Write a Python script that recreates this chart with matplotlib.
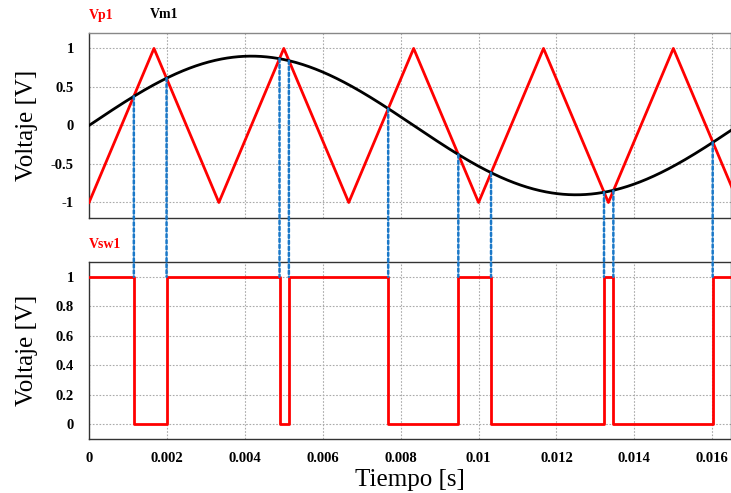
import numpy as np
import matplotlib
matplotlib.use("Agg")
import matplotlib.pyplot as plt
from matplotlib.patches import ConnectionPatch

# carrier (triangle) vertices
tri_t = [0.0, 0.001667, 0.003333, 0.005, 0.006667, 0.008333, 0.01,
         0.011667, 0.013333, 0.015, 0.016667]
tri_v = [-1, 1, -1, 1, -1, 1, -1, 1, -1, 1, -1]

# modulating signal: amplitude and frequency
mod_amp = 0.9
mod_freq = 60.0

# crossing instants (switch edges) and the switch level after each edge
edge_t = [0.0, 0.00115, 0.00199, 0.00489, 0.00513, 0.00768, 0.00948,
          0.01032, 0.01322, 0.01346, 0.01601]
edge_v = [1, 0, 1, 0, 1, 0, 1, 0, 1, 0, 1]
# modulating value at each crossing (where the dotted lines start)
cross_v = [0.378, 0.614, 0.867, 0.841, 0.219, -0.377, -0.613, -0.866,
           -0.845, -0.220]

x_ticks = [0, 0.002, 0.004, 0.006, 0.008, 0.01, 0.012, 0.014, 0.016]
x_max = 0.01648

serif = "Liberation Serif"
red = "#ff0000"
blue = "#1a78c8"

fig = plt.figure(figsize=(7.31, 4.93), dpi=100)
ax1 = fig.add_axes([0.1218, 0.558, 0.8782, 0.375])
ax2 = fig.add_axes([0.1218, 0.1095, 0.8782, 0.359])

t = np.linspace(0, x_max, 800)
ax1.plot(tri_t, tri_v, color=red, lw=2, zorder=3)
ax1.plot(t, mod_amp * np.sin(2 * np.pi * mod_freq * t), color="black", lw=2, zorder=3)
ax1.set_ylim(-1.2, 1.2)
ax1.set_yticks([-1, -0.5, 0, 0.5, 1])
ax1.set_yticklabels(["-1", "-0.5", "0", "0.5", "1"])

st = edge_t + [x_max]
sv = edge_v + [edge_v[-1]]
ax2.step(st, sv, where="post", color=red, lw=2, zorder=3)
ax2.set_ylim(-0.1, 1.1)
ax2.set_yticks([0, 0.2, 0.4, 0.6, 0.8, 1])
ax2.set_yticklabels(["0", "0.2", "0.4", "0.6", "0.8", "1"])

for ax in (ax1, ax2):
    ax.set_xlim(0, x_max)
    ax.set_xticks(x_ticks)
    ax.grid(True, color="#aaaaaa", ls=(0, (1.5, 1.5)), lw=0.8)
    ax.tick_params(axis="y", length=0, pad=11, labelsize=10.5)
    ax.tick_params(axis="x", length=0, pad=9, labelsize=10.5)
    for lab in ax.get_yticklabels() + ax.get_xticklabels():
        lab.set_fontfamily(serif)
        lab.set_fontweight("bold")
    for s in ax.spines.values():
        s.set_color("#333333")
        s.set_linewidth(1)
    ax.set_ylabel("Voltaje [V]", fontfamily=serif, fontsize=18)
    ax.yaxis.set_label_coords(-0.08, 0.5)

ax1.spines["top"].set_color("#888888")
ax1.set_xticklabels([])
ax2.set_xticklabels(["%g" % v for v in x_ticks])
for lab in ax2.get_xticklabels():
    lab.set_fontfamily(serif)
    lab.set_fontweight("bold")
ax2.set_xlabel("Tiempo [s]", fontfamily=serif, fontsize=18, labelpad=3)

# dotted lines from each crossing down to the switch signal
for tc, vc in zip(edge_t[1:], cross_v):
    cp = ConnectionPatch(xyA=(tc, vc), coordsA=ax1.transData,
                         xyB=(tc, 1.0), coordsB=ax2.transData,
                         color=blue, lw=1.8, ls=(0, (1.3, 1.1)), zorder=2)
    fig.add_artist(cp)

fig.text(89 / 731, 1 - 15 / 493, "Vp1", color=red, fontfamily=serif,
         fontweight="bold", fontsize=10, va="center")
fig.text(150 / 731, 1 - 15 / 493, "Vm1", color="black", fontfamily=serif,
         fontweight="bold", fontsize=10, va="center")
fig.text(89 / 731, 1 - 245 / 493, "Vsw1", color=red, fontfamily=serif,
         fontweight="bold", fontsize=10, va="center")

fig.savefig("out.png", dpi=100)
